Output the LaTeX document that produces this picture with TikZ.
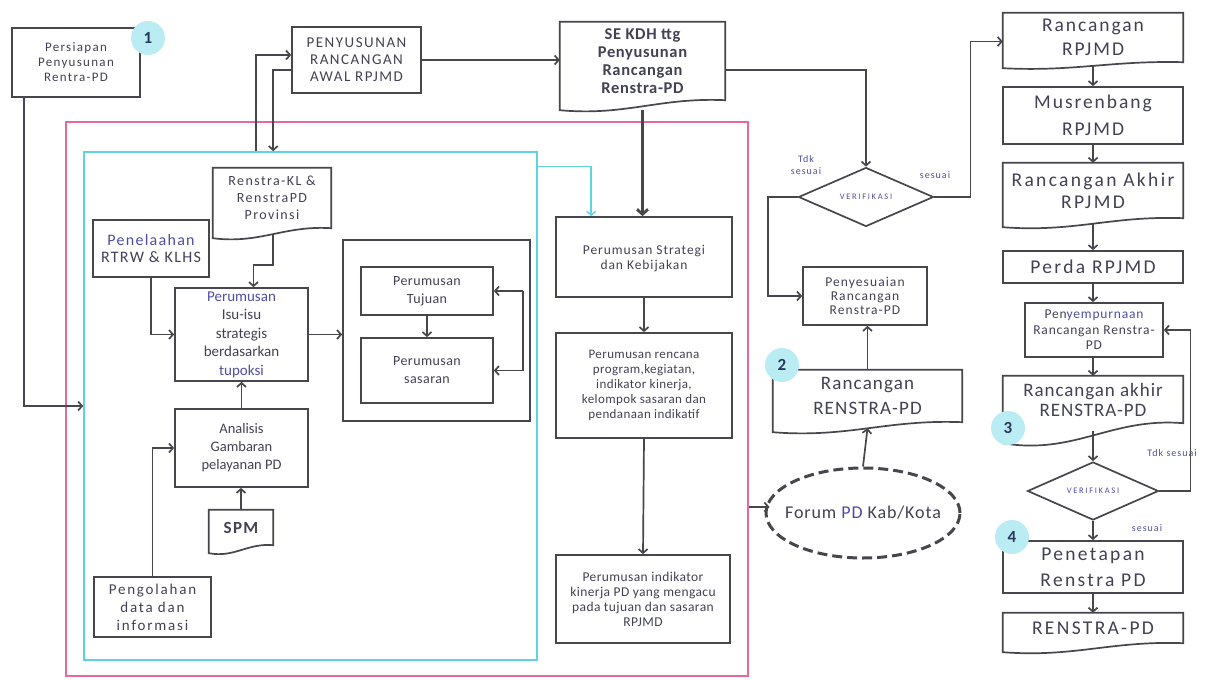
\documentclass[tikz,border=0pt]{standalone}
\usepackage{fontspec}
\setmainfont{Carlito}
\usetikzlibrary{arrows.meta,shapes.geometric,calc}
\definecolor{linec}{RGB}{70,70,76}
\definecolor{txt}{RGB}{66,66,84}
\definecolor{blu}{RGB}{78,78,165}
\definecolor{pinkc}{RGB}{228,105,160}
\definecolor{cyanc}{RGB}{95,210,228}
\definecolor{numfill}{RGB}{185,236,243}
\definecolor{numtxt}{RGB}{40,55,90}
\newcommand\fs[2]{\fontsize{#1}{#2}\selectfont}
\newcommand\ls[1]{\addfontfeature{LetterSpace=#1}}
\newcommand\mydoc[2]{\draw[line] ($(#1.south west)+(0,#2)$) -- (#1.north west) -- (#1.north east) -- (#1.south east) .. controls ($(#1.south east)!0.4!(#1.south west)+(0,-0.3*#2)$) and ($(#1.south west)!0.4!(#1.south east)+(0,1.6*#2)$) .. ($(#1.south west)+(0,#2)$) -- cycle;}
\tikzset{
 line/.style={draw=linec, line width=1.7pt},
 box/.style={line, rectangle, align=center, inner sep=1pt, text=txt},
 docbox/.style={rectangle, align=center, inner sep=1pt, text=txt},
 arr/.style={line, -{Straight Barb[length=4pt,width=9pt]}},
 numc/.style={circle, fill=numfill, minimum size=34, inner sep=0, text=numtxt, font=\bfseries\fs{17}{17}},
 lab/.style={text=blu, font=\fs{10}{12}\ls{10}, align=center, inner sep=0},
 verif/.style={diamond, line, inner sep=0, text=blu, font=\fs{8.5}{9}\ls{20}},
}
\begin{document}
\begin{tikzpicture}[x=1pt,y=-1pt]
\useasboundingbox (0,0) rectangle (1205,680);
\fill[white] (0,0) rectangle (1205,680);
% frames
\node[draw=pinkc, line width=1.6pt, minimum width=682, minimum height=554, inner sep=0] (pink) at (407,399) {};
\node[draw=cyanc, line width=1.6pt, minimum width=453, minimum height=508, inner sep=0] (inner) at (310.5,406) {};
% left part
\node[box, minimum width=128, minimum height=69, font=\fs{13}{15}\ls{10}] (persiapan) at (76,62.5) {Persiapan\\Penyusunan\\Rentra-PD};
\node[box, minimum width=129, minimum height=66, font=\fs{15}{17}\ls{10}] (penyusunan) at (356.5,60) {PENYUSUNAN\\RANCANGAN\\AWAL RPJMD};
\node[docbox, minimum width=165, minimum height=78, font=\bfseries\fs{16.5}{18}\ls{4}] (sekdh) at (642.5,61) {SE KDH ttg\\Penyusunan\\Rancangan\\Renstra-PD};
\mydoc{sekdh}{10}
\node[docbox, minimum width=118, minimum height=60, font=\fs{14}{17}\ls{10}] (renstrakl) at (272,198) {Renstra-KL \&\\RenstraPD\\Provinsi};
\mydoc{renstrakl}{10}
\node[box, minimum width=116, minimum height=57, font=\fs{16}{17}\ls{8}] (penelaahan) at (151,248.5) {\textcolor{blu}{Penelaahan}\\RTRW \& KLHS};
\node[box, minimum width=133, minimum height=93, font=\fs{15}{18.5}] (isu) at (241.5,334.5) {\textcolor{blu}{Perumusan}\\Isu-isu\\strategis\\berdasarkan\\\textcolor{blu}{tupoksi}};
\node[box, minimum width=187, minimum height=181] (outer) at (436.5,330.5) {};
\node[box, minimum width=132, minimum height=48, font=\fs{14}{18}\ls{3}] (tujuan) at (427,291) {Perumusan\\Tujuan};
\node[box, minimum width=132, minimum height=65, font=\fs{14}{18}\ls{3}] (sasaran) at (427,370.5) {Perumusan\\sasaran};
\node[box, minimum width=133, minimum height=78, font=\fs{14.5}{18}] (analisis) at (241.5,448) {Analisis\\Gambaran\\pelayanan PD};
\node[docbox, minimum width=64, minimum height=35, font=\bfseries\fs{17}{17}\ls{8}] (spm) at (241,527.5) {SPM};
\mydoc{spm}{8}
\node[box, minimum width=117, minimum height=60, font=\fs{15}{18}\ls{12}] (pengolahan) at (152.5,607) {Pengolahan\\data dan\\informasi};
% middle column
\node[box, minimum width=176, minimum height=80, font=\fs{13.5}{15}\ls{7}, text depth=-12pt] (strategi) at (644,257) {Perumusan Strategi\\dan Kebijakan};
\node[box, minimum width=176, minimum height=105, font=\fs{13}{15}\ls{3}] (rencana) at (644,385.5) {Perumusan rencana\\program,kegiatan,\\indikator kinerja,\\kelompok sasaran dan\\pendanaan indikatif};
\node[box, minimum width=174, minimum height=88, font=\fs{13.5}{15}\ls{3}] (indikator) at (643,599) {Perumusan indikator\\kinerja PD yang mengacu\\pada tujuan dan sasaran\\RPJMD};
% verification column
\node[verif, minimum width=135, minimum height=59] (verif1) at (866,197) {VERIFIKASI};
\node[box, minimum width=124, minimum height=58, font=\fs{13.5}{14}\ls{8}] (penyesuaian) at (865,296) {Penyesuaian\\Rancangan\\Renstra-PD};
\node[docbox, minimum width=189, minimum height=52, font=\fs{19}{25}\ls{6}] (rrenstra) at (867.5,396) {Rancangan\\RENSTRA-PD};
\mydoc{rrenstra}{10}
\node[ellipse, draw=linec, line width=3pt, dash pattern=on 10pt off 5pt, inner sep=0, minimum width=194, minimum height=90, text=txt, font=\fs{18}{18}\ls{5}] (forum) at (863,513) {\makebox[100pt]{Forum \textcolor{blu}{PD} Kab/Kota}};
% right column
\node[docbox, minimum width=180, minimum height=49, font=\fs{19.5}{24}\ls{10}] (rpjmd1) at (1093,37.5) {Rancangan\\RPJMD};
\mydoc{rpjmd1}{6}
\node[box, minimum width=180, minimum height=57, font=\fs{19.5}{27}\ls{10}] (musrenbang) at (1093,115.5) {Musrenbang\\RPJMD};
\node[docbox, minimum width=180, minimum height=55, font=\fs{19.5}{22}\ls{12}] (akhirrpjmd) at (1093,190.5) {Rancangan Akhir\\RPJMD};
\mydoc{akhirrpjmd}{9}
\node[box, minimum width=180, minimum height=32, font=\fs{19.5}{20}\ls{12}] (perda) at (1093,267) {Perda RPJMD};
\node[box, minimum width=138, minimum height=54, font=\fs{13.5}{15.5}\ls{6}] (penyempurnaan) at (1094,330) {Pen\textcolor{blu}{yempurnaan}\\Rancangan Renstra-\\PD};
\node[docbox, minimum width=180, minimum height=47, font=\fs{19}{20}\ls{5}] (akhirrenstra) at (1093,399.5) {Rancangan akhir\\RENSTRA-PD};
\mydoc{akhirrenstra}{20}
\node[verif, minimum width=131, minimum height=57] (verif2) at (1093,491) {VERIFIKASI};
\node[box, minimum width=180, minimum height=52, font=\fs{19.5}{26}\ls{12}] (penetapan) at (1093,567) {Penetapan\\Renstra PD};
\node[docbox, minimum width=180, minimum height=30, font=\fs{19.5}{20}\ls{12}] (renstrapd) at (1093,628) {RENSTRA-PD};
\mydoc{renstrapd}{9}
% connectors left
\draw[arr] (penyusunan.east) -- (penyusunan.east -| sekdh.west);
\draw[arr] ($(inner.north west)+(173,0)$) |- ($(penyusunan.west)+(0,-5)$);
\draw[arr] ($(penyusunan.west)+(0,10)$) -| ($(inner.north west)+(190,0)$);
\draw[arr] ($(persiapan.south west)+(13,0)$) |- (inner.west);
\draw[arr] ($(renstrakl.south)+(1,6)$) -- ($(renstrakl.south)+(1,37)$) -| ($(isu.north)+(12,0)$);
\draw[arr] (penelaahan.south) |- (isu.west);
\draw[arr] (isu.east) -- (isu.east -| outer.west);
\draw[arr] (tujuan.south) -- (sasaran.north);
\draw[arr] ($(tujuan.east)+(29,0)$) -- (tujuan.east);
\draw[arr] ($(tujuan.east)+(29,0)$) |- (sasaran.east);
\draw[arr] (analisis.north) -- (isu.south);
\draw[arr] (spm.north) -- (spm.north |- analisis.south);
\draw[arr] (pengolahan.north) |- (analisis.west);
% middle connectors
\draw[line, line width=2.8pt, -{Straight Barb[length=5pt,width=11pt]}] ($(sekdh.south)+(0,10)$) -- (sekdh.south |- strategi.north);
\draw[draw=cyanc, line width=1.4pt, -{Straight Barb[length=4pt,width=9pt]}] ($(inner.north east)+(0,15)$) -| ($(strategi.north west)+(36,0)$);
\draw[arr] (strategi.south) -- (rencana.north);
\draw[arr] (rencana.south) -- (indikator.north);
\draw[arr] ($(forum.west -| pink.east)+(0,-6)$) -- ($(forum.west)+(5,-6)$);
% verification connectors
\draw[arr] ($(sekdh.east)+(0,9)$) -| (verif1.north);
\draw[arr] (verif1.west) -- ++(-30,0) |- (penyesuaian.west);
\draw[arr] (verif1.east) -- ++(36,0) |- ($(rpjmd1.west)+(0,4)$);
\node[lab] (tdk1) at (806,165) {Tdk\\sesuai};
\node[lab] (ses1) at (935,175) {sesuai};
\draw[arr] (rrenstra.north) -- (penyesuaian.south -| rrenstra.north);
\draw[arr] (forum.north) -- ($(rrenstra.south)+(0,6)$);
% right connectors
\draw[arr] ($(rpjmd1.south)+(0,4)$) -- (musrenbang.north);
\draw[arr] (musrenbang.south) -- (akhirrpjmd.north);
\draw[arr] ($(akhirrpjmd.south)+(0,5)$) -- (perda.north);
\draw[arr] (perda.south) -- (perda.south |- penyempurnaan.north);
\draw[arr] (penyempurnaan.south -| akhirrenstra.north) -- (akhirrenstra.north);
\draw[arr] ($(akhirrenstra.south)+(0,8)$) -- (verif2.north);
\draw[arr] (verif2.east) -- ++(31,0) |- (penyempurnaan.east);
\draw[arr] (verif2.south) -- (penetapan.north);
\draw[arr] (penetapan.south) -- (renstrapd.north);
\node[lab] (tdk2) at (1172,453) {Tdk sesuai};
\node[lab] (ses2) at (1147,528) {sesuai};
% number badges
\node[numc] (n1) at (148,38) {1};
\node[numc] (n2) at (782,365) {2};
\node[numc] (n3) at (1008,428) {3};
\node[numc] (n4) at (1012,537) {4};
\end{tikzpicture}
\end{document}
